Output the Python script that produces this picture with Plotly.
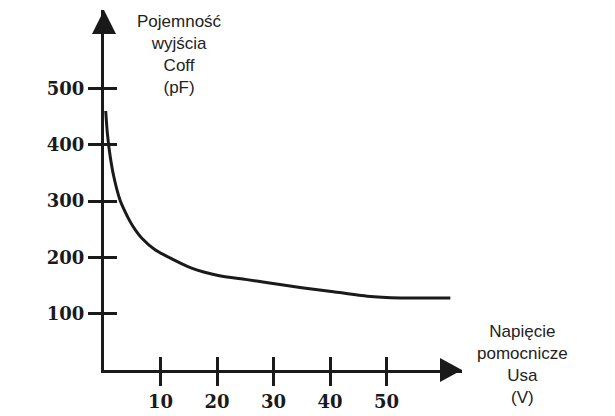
import plotly.graph_objects as go

# Data
usa_v = [0.3, 0.6, 1.06, 1.7, 2.83, 3.6, 4.6, 5.6, 6.7, 9.1, 12, 15.5, 20.2, 25, 29, 35, 40.6, 46.6, 52.5, 61.3]
coff_pf = [460, 420, 382, 345, 302, 284, 264, 248, 234, 213, 197.5, 181, 168, 161, 155, 146, 139, 131, 128, 128]

x_ticks = [10, 20, 30, 40, 50]
y_ticks = [100, 200, 300, 400, 500]

x_title = "Napięcie<br>pomocnicze<br>Usa<br>(V)"
y_title = "Pojemność<br>wyjścia<br>Coff<br>(pF)"

INK = "#1a1a1a"
W, H = 615, 416
ML, MR, MT, MB = 104, 153, 10, 46
pw = W - ML - MR
ph = H - MT - MB
x_range = [0, pw / 5.65]
y_range = [0, ph / 0.563]

fig = go.Figure()
fig.add_trace(go.Scatter(x=usa_v, y=coff_pf, mode="lines",
                         line=dict(color=INK, width=3, shape="spline", smoothing=0.6),
                         hoverinfo="skip", showlegend=False))

tickfont = dict(family="DejaVu Serif", size=18, weight="bold", color=INK)
# minor ticks (inside) placed on the major tick positions -> crossing ticks
x_minor = dict(tickvals=[v + 0.01 for v in x_ticks], ticks="inside", ticklen=13,
               tickwidth=3, tickcolor=INK, showgrid=False)
y_minor = dict(tickvals=[v + 0.1 for v in y_ticks], ticks="inside", ticklen=13,
               tickwidth=3, tickcolor=INK, showgrid=False)
fig.update_layout(
    width=W, height=H,
    margin=dict(l=ML, r=MR, t=MT, b=MB, pad=0, autoexpand=False),
    paper_bgcolor="white", plot_bgcolor="white",
    xaxis=dict(range=x_range, tickvals=x_ticks, ticks="outside", ticklen=13, tickwidth=3,
               tickcolor=INK, showline=True, linewidth=3, linecolor=INK, showgrid=False,
               zeroline=False, tickfont=tickfont, ticklabelstandoff=0, minor=x_minor,
               automargin=False),
    yaxis=dict(range=y_range, tickvals=y_ticks, ticks="outside", ticklen=13, tickwidth=3,
               tickcolor=INK, showline=True, linewidth=3, linecolor=INK, showgrid=False,
               zeroline=False, tickfont=tickfont, ticklabelstandoff=0, minor=y_minor,
               automargin=False),
)

# arrowheads
ax_h = 12 / ph
ax_w = 12 / pw
fig.add_shape(type="path", xref="paper", yref="paper",
              path=f"M 0 1 L {-ax_w} {1 - 24/ph} L {ax_w} {1 - 24/ph} Z",
              fillcolor=INK, line=dict(width=0))
fig.add_shape(type="path", xref="paper", yref="paper",
              path=f"M 1 0 L {1 - 22/pw} {ax_h} L {1 - 22/pw} {-ax_h} Z",
              fillcolor=INK, line=dict(width=0))

title_font = dict(family="Liberation Sans, Arial", size=17, color="#222222")
fig.add_annotation(text=y_title, xref="paper", yref="paper",
                   x=(179 - ML) / pw, y=1.0, xanchor="center", yanchor="top",
                   showarrow=False, font=title_font, align="center")
fig.add_annotation(text=x_title, xref="paper", yref="paper",
                   x=(522 - ML) / pw, y=(H - MB - 320) / ph, xanchor="center", yanchor="top",
                   showarrow=False, font=title_font, align="center")

fig.write_html("out.html")
